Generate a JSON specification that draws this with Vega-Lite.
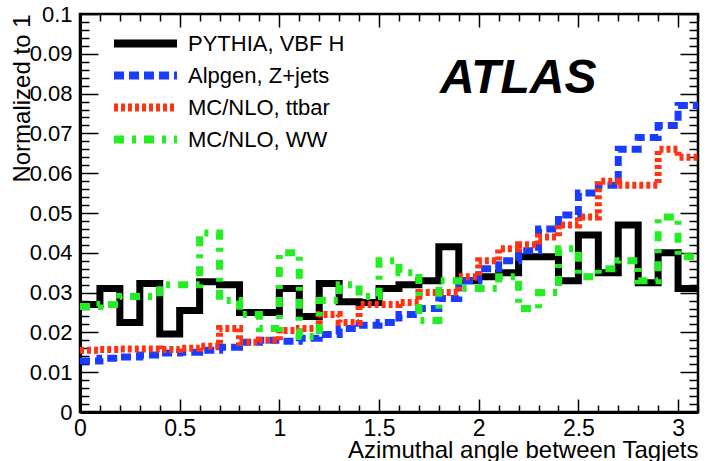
{
  "$schema": "https://vega.github.io/schema/vega-lite/v6.json",
  "width": 618,
  "height": 398,
  "autosize": "none",
  "padding": {"left": 80, "top": 14, "right": 15, "bottom": 49},
  "background": "white",
  "title": {
    "text": "ATLAS",
    "font": "Liberation Sans",
    "fontSize": 48,
    "fontWeight": "bold",
    "fontStyle": "italic",
    "color": "black",
    "anchor": "start",
    "frame": "group",
    "dx": 360,
    "offset": -138,
    "baseline": "alphabetic"
  },
  "data": {
    "values": [
      {"sample": "PYTHIA, VBF H", "lo": 0, "hi": 0.1, "frac": 0.027},
      {"sample": "PYTHIA, VBF H", "lo": 0.1, "hi": 0.2, "frac": 0.031},
      {"sample": "PYTHIA, VBF H", "lo": 0.2, "hi": 0.3, "frac": 0.0225},
      {"sample": "PYTHIA, VBF H", "lo": 0.3, "hi": 0.4, "frac": 0.0323},
      {"sample": "PYTHIA, VBF H", "lo": 0.4, "hi": 0.5, "frac": 0.0196},
      {"sample": "PYTHIA, VBF H", "lo": 0.5, "hi": 0.6, "frac": 0.0255},
      {"sample": "PYTHIA, VBF H", "lo": 0.6, "hi": 0.7, "frac": 0.0327},
      {"sample": "PYTHIA, VBF H", "lo": 0.7, "hi": 0.8, "frac": 0.032},
      {"sample": "PYTHIA, VBF H", "lo": 0.8, "hi": 0.9, "frac": 0.025},
      {"sample": "PYTHIA, VBF H", "lo": 0.9, "hi": 1, "frac": 0.025},
      {"sample": "PYTHIA, VBF H", "lo": 1, "hi": 1.1, "frac": 0.031},
      {"sample": "PYTHIA, VBF H", "lo": 1.1, "hi": 1.2, "frac": 0.024},
      {"sample": "PYTHIA, VBF H", "lo": 1.2, "hi": 1.3, "frac": 0.0323},
      {"sample": "PYTHIA, VBF H", "lo": 1.3, "hi": 1.4, "frac": 0.0277},
      {"sample": "PYTHIA, VBF H", "lo": 1.4, "hi": 1.5, "frac": 0.0275},
      {"sample": "PYTHIA, VBF H", "lo": 1.5, "hi": 1.6, "frac": 0.031},
      {"sample": "PYTHIA, VBF H", "lo": 1.6, "hi": 1.7, "frac": 0.032},
      {"sample": "PYTHIA, VBF H", "lo": 1.7, "hi": 1.8, "frac": 0.033},
      {"sample": "PYTHIA, VBF H", "lo": 1.8, "hi": 1.9, "frac": 0.0415},
      {"sample": "PYTHIA, VBF H", "lo": 1.9, "hi": 2, "frac": 0.033},
      {"sample": "PYTHIA, VBF H", "lo": 2, "hi": 2.1, "frac": 0.034},
      {"sample": "PYTHIA, VBF H", "lo": 2.1, "hi": 2.2, "frac": 0.035},
      {"sample": "PYTHIA, VBF H", "lo": 2.2, "hi": 2.3, "frac": 0.039},
      {"sample": "PYTHIA, VBF H", "lo": 2.3, "hi": 2.4, "frac": 0.039},
      {"sample": "PYTHIA, VBF H", "lo": 2.4, "hi": 2.5, "frac": 0.033},
      {"sample": "PYTHIA, VBF H", "lo": 2.5, "hi": 2.6, "frac": 0.0445},
      {"sample": "PYTHIA, VBF H", "lo": 2.6, "hi": 2.7, "frac": 0.035},
      {"sample": "PYTHIA, VBF H", "lo": 2.7, "hi": 2.8, "frac": 0.047},
      {"sample": "PYTHIA, VBF H", "lo": 2.8, "hi": 2.9, "frac": 0.0325},
      {"sample": "PYTHIA, VBF H", "lo": 2.9, "hi": 3, "frac": 0.04},
      {"sample": "PYTHIA, VBF H", "lo": 3, "hi": 3.1, "frac": 0.031},

      {"sample": "Alpgen, Z+jets", "lo": 0, "hi": 0.1, "frac": 0.0128},
      {"sample": "Alpgen, Z+jets", "lo": 0.1, "hi": 0.2, "frac": 0.0135},
      {"sample": "Alpgen, Z+jets", "lo": 0.2, "hi": 0.3, "frac": 0.0138},
      {"sample": "Alpgen, Z+jets", "lo": 0.3, "hi": 0.4, "frac": 0.0143},
      {"sample": "Alpgen, Z+jets", "lo": 0.4, "hi": 0.5, "frac": 0.0148},
      {"sample": "Alpgen, Z+jets", "lo": 0.5, "hi": 0.6, "frac": 0.015},
      {"sample": "Alpgen, Z+jets", "lo": 0.6, "hi": 0.7, "frac": 0.0155},
      {"sample": "Alpgen, Z+jets", "lo": 0.7, "hi": 0.8, "frac": 0.0163},
      {"sample": "Alpgen, Z+jets", "lo": 0.8, "hi": 0.9, "frac": 0.0175},
      {"sample": "Alpgen, Z+jets", "lo": 0.9, "hi": 1, "frac": 0.018},
      {"sample": "Alpgen, Z+jets", "lo": 1, "hi": 1.1, "frac": 0.0178},
      {"sample": "Alpgen, Z+jets", "lo": 1.1, "hi": 1.2, "frac": 0.0185},
      {"sample": "Alpgen, Z+jets", "lo": 1.2, "hi": 1.3, "frac": 0.0195},
      {"sample": "Alpgen, Z+jets", "lo": 1.3, "hi": 1.4, "frac": 0.021},
      {"sample": "Alpgen, Z+jets", "lo": 1.4, "hi": 1.5, "frac": 0.0218},
      {"sample": "Alpgen, Z+jets", "lo": 1.5, "hi": 1.6, "frac": 0.0225},
      {"sample": "Alpgen, Z+jets", "lo": 1.6, "hi": 1.7, "frac": 0.0245},
      {"sample": "Alpgen, Z+jets", "lo": 1.7, "hi": 1.8, "frac": 0.026},
      {"sample": "Alpgen, Z+jets", "lo": 1.8, "hi": 1.9, "frac": 0.0285},
      {"sample": "Alpgen, Z+jets", "lo": 1.9, "hi": 2, "frac": 0.033},
      {"sample": "Alpgen, Z+jets", "lo": 2, "hi": 2.1, "frac": 0.036},
      {"sample": "Alpgen, Z+jets", "lo": 2.1, "hi": 2.2, "frac": 0.038},
      {"sample": "Alpgen, Z+jets", "lo": 2.2, "hi": 2.3, "frac": 0.0405},
      {"sample": "Alpgen, Z+jets", "lo": 2.3, "hi": 2.4, "frac": 0.046},
      {"sample": "Alpgen, Z+jets", "lo": 2.4, "hi": 2.5, "frac": 0.0495},
      {"sample": "Alpgen, Z+jets", "lo": 2.5, "hi": 2.6, "frac": 0.055},
      {"sample": "Alpgen, Z+jets", "lo": 2.6, "hi": 2.7, "frac": 0.057},
      {"sample": "Alpgen, Z+jets", "lo": 2.7, "hi": 2.8, "frac": 0.066},
      {"sample": "Alpgen, Z+jets", "lo": 2.8, "hi": 2.9, "frac": 0.069},
      {"sample": "Alpgen, Z+jets", "lo": 2.9, "hi": 3, "frac": 0.072},
      {"sample": "Alpgen, Z+jets", "lo": 3, "hi": 3.1, "frac": 0.077},

      {"sample": "MC/NLO, ttbar", "lo": 0, "hi": 0.1, "frac": 0.0155},
      {"sample": "MC/NLO, ttbar", "lo": 0.1, "hi": 0.2, "frac": 0.0157},
      {"sample": "MC/NLO, ttbar", "lo": 0.2, "hi": 0.3, "frac": 0.0158},
      {"sample": "MC/NLO, ttbar", "lo": 0.3, "hi": 0.4, "frac": 0.0158},
      {"sample": "MC/NLO, ttbar", "lo": 0.4, "hi": 0.5, "frac": 0.0157},
      {"sample": "MC/NLO, ttbar", "lo": 0.5, "hi": 0.6, "frac": 0.016},
      {"sample": "MC/NLO, ttbar", "lo": 0.6, "hi": 0.7, "frac": 0.0165},
      {"sample": "MC/NLO, ttbar", "lo": 0.7, "hi": 0.8, "frac": 0.021},
      {"sample": "MC/NLO, ttbar", "lo": 0.8, "hi": 0.9, "frac": 0.0175},
      {"sample": "MC/NLO, ttbar", "lo": 0.9, "hi": 1, "frac": 0.018},
      {"sample": "MC/NLO, ttbar", "lo": 1, "hi": 1.1, "frac": 0.0205},
      {"sample": "MC/NLO, ttbar", "lo": 1.1, "hi": 1.2, "frac": 0.021},
      {"sample": "MC/NLO, ttbar", "lo": 1.2, "hi": 1.3, "frac": 0.0245},
      {"sample": "MC/NLO, ttbar", "lo": 1.3, "hi": 1.4, "frac": 0.0225},
      {"sample": "MC/NLO, ttbar", "lo": 1.4, "hi": 1.5, "frac": 0.027},
      {"sample": "MC/NLO, ttbar", "lo": 1.5, "hi": 1.6, "frac": 0.027},
      {"sample": "MC/NLO, ttbar", "lo": 1.6, "hi": 1.7, "frac": 0.0275},
      {"sample": "MC/NLO, ttbar", "lo": 1.7, "hi": 1.8, "frac": 0.03},
      {"sample": "MC/NLO, ttbar", "lo": 1.8, "hi": 1.9, "frac": 0.03},
      {"sample": "MC/NLO, ttbar", "lo": 1.9, "hi": 2, "frac": 0.034},
      {"sample": "MC/NLO, ttbar", "lo": 2, "hi": 2.1, "frac": 0.038},
      {"sample": "MC/NLO, ttbar", "lo": 2.1, "hi": 2.2, "frac": 0.041},
      {"sample": "MC/NLO, ttbar", "lo": 2.2, "hi": 2.3, "frac": 0.042},
      {"sample": "MC/NLO, ttbar", "lo": 2.3, "hi": 2.4, "frac": 0.044},
      {"sample": "MC/NLO, ttbar", "lo": 2.4, "hi": 2.5, "frac": 0.047},
      {"sample": "MC/NLO, ttbar", "lo": 2.5, "hi": 2.6, "frac": 0.049},
      {"sample": "MC/NLO, ttbar", "lo": 2.6, "hi": 2.7, "frac": 0.058},
      {"sample": "MC/NLO, ttbar", "lo": 2.7, "hi": 2.8, "frac": 0.057},
      {"sample": "MC/NLO, ttbar", "lo": 2.8, "hi": 2.9, "frac": 0.057},
      {"sample": "MC/NLO, ttbar", "lo": 2.9, "hi": 3, "frac": 0.066},
      {"sample": "MC/NLO, ttbar", "lo": 3, "hi": 3.1, "frac": 0.064},

      {"sample": "MC/NLO, WW", "lo": 0, "hi": 0.1, "frac": 0.0265},
      {"sample": "MC/NLO, WW", "lo": 0.1, "hi": 0.2, "frac": 0.027},
      {"sample": "MC/NLO, WW", "lo": 0.2, "hi": 0.3, "frac": 0.029},
      {"sample": "MC/NLO, WW", "lo": 0.3, "hi": 0.4, "frac": 0.029},
      {"sample": "MC/NLO, WW", "lo": 0.4, "hi": 0.5, "frac": 0.032},
      {"sample": "MC/NLO, WW", "lo": 0.5, "hi": 0.6, "frac": 0.032},
      {"sample": "MC/NLO, WW", "lo": 0.6, "hi": 0.7, "frac": 0.045},
      {"sample": "MC/NLO, WW", "lo": 0.7, "hi": 0.8, "frac": 0.028},
      {"sample": "MC/NLO, WW", "lo": 0.8, "hi": 0.9, "frac": 0.0245},
      {"sample": "MC/NLO, WW", "lo": 0.9, "hi": 1, "frac": 0.021},
      {"sample": "MC/NLO, WW", "lo": 1, "hi": 1.1, "frac": 0.04},
      {"sample": "MC/NLO, WW", "lo": 1.1, "hi": 1.2, "frac": 0.019},
      {"sample": "MC/NLO, WW", "lo": 1.2, "hi": 1.3, "frac": 0.028},
      {"sample": "MC/NLO, WW", "lo": 1.3, "hi": 1.4, "frac": 0.032},
      {"sample": "MC/NLO, WW", "lo": 1.4, "hi": 1.5, "frac": 0.029},
      {"sample": "MC/NLO, WW", "lo": 1.5, "hi": 1.6, "frac": 0.038},
      {"sample": "MC/NLO, WW", "lo": 1.6, "hi": 1.7, "frac": 0.035},
      {"sample": "MC/NLO, WW", "lo": 1.7, "hi": 1.8, "frac": 0.023},
      {"sample": "MC/NLO, WW", "lo": 1.8, "hi": 1.9, "frac": 0.033},
      {"sample": "MC/NLO, WW", "lo": 1.9, "hi": 2, "frac": 0.031},
      {"sample": "MC/NLO, WW", "lo": 2, "hi": 2.1, "frac": 0.031},
      {"sample": "MC/NLO, WW", "lo": 2.1, "hi": 2.2, "frac": 0.034},
      {"sample": "MC/NLO, WW", "lo": 2.2, "hi": 2.3, "frac": 0.026},
      {"sample": "MC/NLO, WW", "lo": 2.3, "hi": 2.4, "frac": 0.03},
      {"sample": "MC/NLO, WW", "lo": 2.4, "hi": 2.5, "frac": 0.041},
      {"sample": "MC/NLO, WW", "lo": 2.5, "hi": 2.6, "frac": 0.034},
      {"sample": "MC/NLO, WW", "lo": 2.6, "hi": 2.7, "frac": 0.036},
      {"sample": "MC/NLO, WW", "lo": 2.7, "hi": 2.8, "frac": 0.038},
      {"sample": "MC/NLO, WW", "lo": 2.8, "hi": 2.9, "frac": 0.033},
      {"sample": "MC/NLO, WW", "lo": 2.9, "hi": 3, "frac": 0.049},
      {"sample": "MC/NLO, WW", "lo": 3, "hi": 3.1, "frac": 0.039}
    ]
  },
  "transform": [
    {"fold": ["lo", "hi"], "as": ["edge", "x"]}
  ],
  "layer": [
    {
      "mark": {"type": "line", "strokeWidth": 7, "strokeJoin": "miter", "strokeCap": "butt", "clip": true},
      "encoding": {
        "x": {
          "field": "x", "type": "quantitative",
          "scale": {"domain": [0, 3.1], "nice": false, "zero": false},
          "axis": {
            "orient": "bottom",
            "values": [0, 0.5, 1, 1.5, 2, 2.5, 3],
            "format": "~g",
            "ticks": false,
            "domain": true, "domainWidth": 3,
            "labelFontSize": 23, "labelPadding": 5,
            "title": "Azimuthal angle between Tagjets",
            "titleFontSize": 24,
            "titleAnchor": "end", "titleAlign": "right",
            "titleX": 618, "titleY": 45, "titleBaseline": "alphabetic"
          }
        },
        "y": {
          "field": "frac", "type": "quantitative",
          "scale": {"domain": [0, 0.1], "nice": false, "zero": true},
          "axis": {
            "orient": "left",
            "values": [0, 0.01, 0.02, 0.03, 0.04, 0.05, 0.06, 0.07, 0.08, 0.09, 0.1],
            "format": "~g",
            "ticks": false,
            "domain": true, "domainWidth": 3,
            "labelFontSize": 22, "labelPadding": 8,
            "title": "Normalized to 1",
            "titleFontSize": 24,
            "titleAngle": 270,
            "titleAnchor": "end", "titleAlign": "right", "titleBaseline": "middle",
            "titleX": -58, "titleY": 0
          }
        },
        "color": {
          "field": "sample", "type": "nominal",
          "scale": {
            "domain": ["PYTHIA, VBF H", "Alpgen, Z+jets", "MC/NLO, ttbar", "MC/NLO, WW"],
            "range": ["#000000", "#1a3cff", "#ff3311", "#22ee22"]
          },
          "legend": {
            "title": null, "orient": "none", "legendX": 51, "legendY": 15,
            "symbolType": "M-3,0H3", "symbolSize": 441, "symbolStrokeWidth": 8,
            "labelFontSize": 22, "labelOffset": 28, "rowPadding": -1, "padding": 0
          }
        },
        "strokeDash": {
          "field": "sample", "type": "nominal",
          "scale": {
            "domain": ["PYTHIA, VBF H", "Alpgen, Z+jets", "MC/NLO, ttbar", "MC/NLO, WW"],
            "range": [[1, 0], [10, 5], [4, 3], [10, 8, 4, 8]]
          },
          "legend": {
            "title": null, "orient": "none", "legendX": 51, "legendY": 15,
            "symbolType": "M-3,0H3", "symbolSize": 441, "symbolStrokeWidth": 8,
            "labelFontSize": 22, "labelOffset": 28, "rowPadding": -1, "padding": 0
          }
        },
        "order": [
          {"field": "x", "type": "quantitative"},
          {"field": "edge", "type": "nominal"}
        ]
      }
    },
    {
      "mark": {"type": "point", "opacity": 0},
      "encoding": {
        "x": {"field": "x", "type": "quantitative",
          "axis": {"orient": "bottom", "values": [0, 0.5, 1, 1.5, 2, 2.5, 3], "labels": false, "domain": false, "tickSize": -13, "tickWidth": 1.5, "title": null}},
        "y": {"field": "frac", "type": "quantitative",
          "axis": {"orient": "left", "values": [0, 0.01, 0.02, 0.03, 0.04, 0.05, 0.06, 0.07, 0.08, 0.09, 0.1], "labels": false, "domain": false, "tickSize": -18, "tickWidth": 1.5, "title": null}}
      }
    },
    {
      "mark": {"type": "point", "opacity": 0},
      "encoding": {
        "x": {"field": "x", "type": "quantitative",
          "axis": {"orient": "bottom", "values": [0.1, 0.2, 0.3, 0.4, 0.6, 0.7, 0.8, 0.9, 1.1, 1.2, 1.3, 1.4, 1.6, 1.7, 1.8, 1.9, 2.1, 2.2, 2.3, 2.4, 2.6, 2.7, 2.8, 2.9, 3.1], "labels": false, "domain": false, "tickSize": -7, "tickWidth": 1.5, "title": null}},
        "y": {"field": "frac", "type": "quantitative",
          "axis": {"orient": "left", "values": [0.002, 0.004, 0.006, 0.008, 0.012, 0.014, 0.016, 0.018, 0.022, 0.024, 0.026, 0.028, 0.032, 0.034, 0.036, 0.038, 0.042, 0.044, 0.046, 0.048, 0.052, 0.054, 0.056, 0.058, 0.062, 0.064, 0.066, 0.068, 0.072, 0.074, 0.076, 0.078, 0.082, 0.084, 0.086, 0.088, 0.092, 0.094, 0.096, 0.098], "labels": false, "domain": false, "tickSize": -9, "tickWidth": 1.5, "title": null}}
      }
    },
    {
      "mark": {"type": "point", "opacity": 0},
      "encoding": {
        "x": {"field": "x", "type": "quantitative",
          "axis": {"orient": "top", "values": [0, 0.5, 1, 1.5, 2, 2.5, 3], "labels": false, "domain": false, "tickSize": -13, "tickWidth": 1.5, "title": null}},
        "y": {"field": "frac", "type": "quantitative",
          "axis": {"orient": "right", "values": [0, 0.01, 0.02, 0.03, 0.04, 0.05, 0.06, 0.07, 0.08, 0.09, 0.1], "labels": false, "domain": false, "tickSize": -18, "tickWidth": 1.5, "title": null}}
      }
    },
    {
      "mark": {"type": "point", "opacity": 0},
      "encoding": {
        "x": {"field": "x", "type": "quantitative",
          "axis": {"orient": "top", "values": [0.1, 0.2, 0.3, 0.4, 0.6, 0.7, 0.8, 0.9, 1.1, 1.2, 1.3, 1.4, 1.6, 1.7, 1.8, 1.9, 2.1, 2.2, 2.3, 2.4, 2.6, 2.7, 2.8, 2.9, 3.1], "labels": false, "domain": false, "tickSize": -7, "tickWidth": 1.5, "title": null}},
        "y": {"field": "frac", "type": "quantitative",
          "axis": {"orient": "right", "values": [0.002, 0.004, 0.006, 0.008, 0.012, 0.014, 0.016, 0.018, 0.022, 0.024, 0.026, 0.028, 0.032, 0.034, 0.036, 0.038, 0.042, 0.044, 0.046, 0.048, 0.052, 0.054, 0.056, 0.058, 0.062, 0.064, 0.066, 0.068, 0.072, 0.074, 0.076, 0.078, 0.082, 0.084, 0.086, 0.088, 0.092, 0.094, 0.096, 0.098], "labels": false, "domain": false, "tickSize": -9, "tickWidth": 1.5, "title": null}}
      }
    }
  ],
  "resolve": {"axis": {"x": "independent", "y": "independent"}},
  "config": {
    "view": {"stroke": "black", "strokeWidth": 2.5},
    "font": "Liberation Sans",
    "axis": {
      "grid": false,
      "labelFont": "Liberation Sans", "titleFont": "Liberation Sans",
      "labelColor": "black", "titleColor": "black",
      "tickColor": "black", "domainColor": "black",
      "titleFontWeight": "normal",
      "labelFlush": false, "labelOverlap": false, "labelBound": false
    },
    "legend": {"labelFont": "Liberation Sans", "labelColor": "black"}
  }
}
